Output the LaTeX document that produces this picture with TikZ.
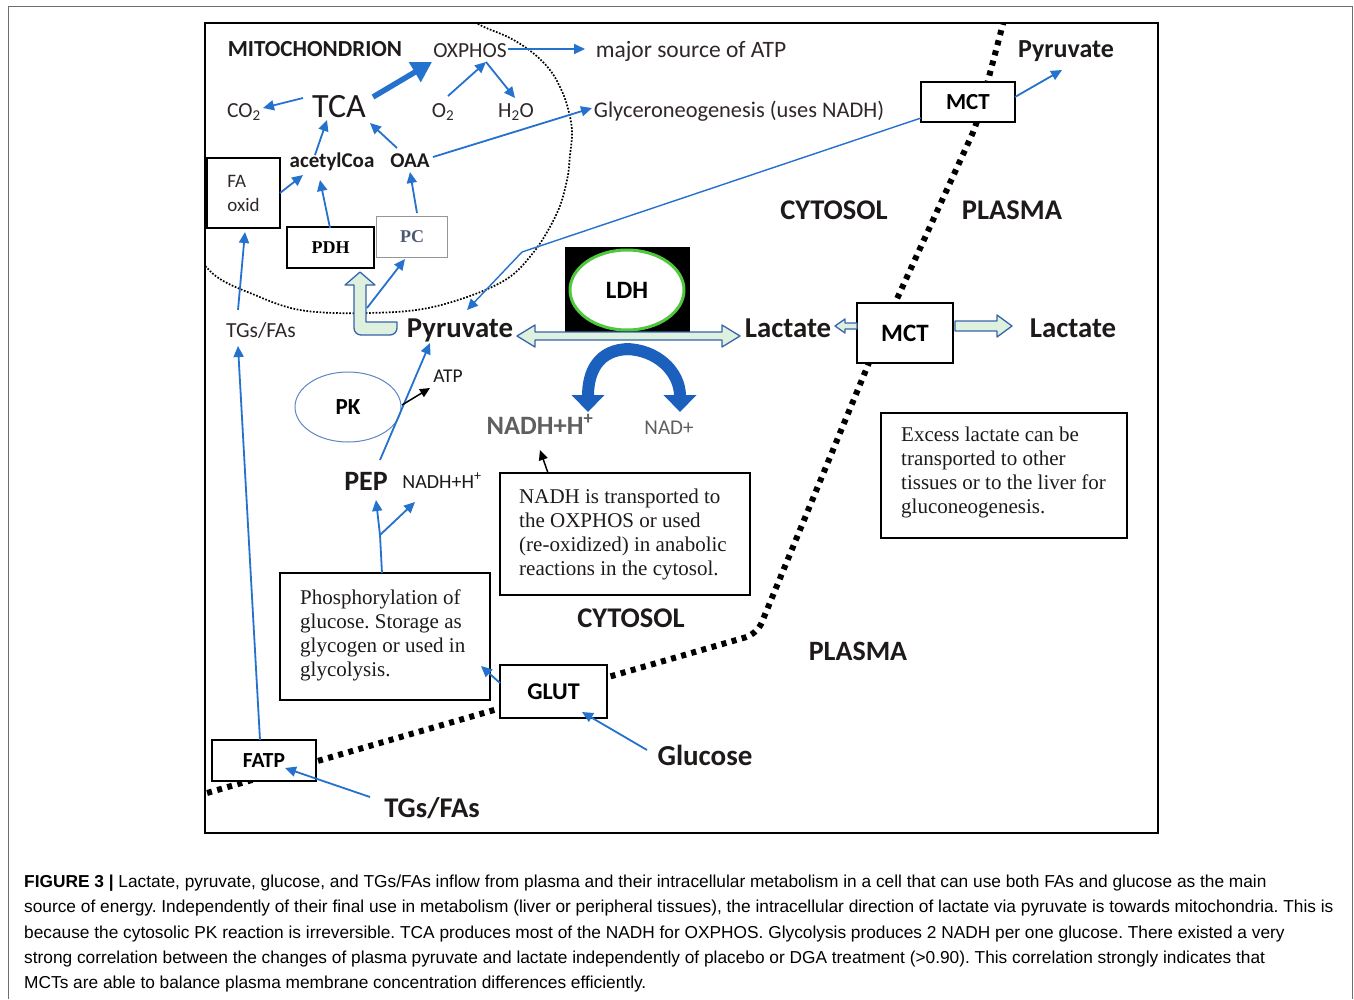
\documentclass[tikz,border=0pt]{standalone}
\usepackage{fontspec}
\setmainfont{Carlito}
\newfontfamily\serifnote{Liberation Serif}
\newfontfamily\capsans{Liberation Sans}
\usetikzlibrary{arrows.meta,calc,shapes.geometric}
\definecolor{flowblue}{RGB}{36,113,206}
\definecolor{bandblue}{RGB}{28,96,190}
\definecolor{palegreen}{RGB}{222,240,222}
\definecolor{hollowline}{RGB}{55,100,170}
\definecolor{ldhgreen}{RGB}{80,200,60}
\definecolor{txt}{RGB}{30,26,26}
\definecolor{softtxt}{RGB}{48,40,40}
\definecolor{graytxt}{RGB}{95,95,95}
\definecolor{pcgray}{RGB}{150,150,150}
\definecolor{pctext}{RGB}{75,90,115}
\definecolor{pkblue}{RGB}{95,135,195}
\definecolor{framegray}{RGB}{110,110,110}
\newcommand\fsz[1]{\fontsize{#1}{#1}\selectfont}
\frenchspacing
\begin{document}
\begin{tikzpicture}[x=1pt,y=-1pt,
  lab/.style={inner sep=0pt,anchor=base,text=txt},
  flow/.style={draw=flowblue,line width=1.8pt,-{Triangle[length=11pt,width=10pt]}},
  blk/.style={draw=black,line width=1.5pt,-{Triangle[length=10pt,width=9pt]}},
  box/.style={draw=black,line width=1.6pt,fill=white,inner sep=0pt},
  note/.style={inner sep=0pt,anchor=north west,align=left,font=\serifnote\fontsize{21}{24}\selectfont,text=txt},
  membrane/.style={draw=black,line width=6pt,dash pattern=on 5pt off 5.5pt},
  hollow/.style={draw=hollowline,line width=1.3pt,fill=palegreen,line join=round},
  band/.style={draw=bandblue,line width=12pt,-{Triangle[length=17pt,width=32pt]}},
  captxt/.style={inner sep=0pt,anchor=base west,font=\capsans\fsz{17.3},text=black},
]
\useasboundingbox (0,0) rectangle (1354,999);
\fill[white] (0,0) rectangle (1354,999);
\draw[framegray,line width=0.9pt] (8,999) -- (8,6) -- (1352,6) -- (1352,999);

% mitochondrion outline and plasma membrane
\begin{scope}
  \clip (205,23) rectangle (1158,833);
  \draw[line width=1.7pt,dash pattern=on 1.7pt off 1.6pt] plot[smooth,tension=0.6] coordinates {(462,12) (480,25) (510,38) (533,53) (550,70) (560,87) (567,105) (572,130) (570,155) (567,180) (557,213) (533,253) (500,283) (433,307) (367,313) (300,310) (250,293) (217,277) (196,255)};
  \draw[membrane,rounded corners=12pt] (1004,20) -- (976,126) -- (880,336) -- (757,634) -- (200,795);
\end{scope}
\draw[line width=1.8pt] (205,23) rectangle (1158,833);

% labels and boxes
\node[lab,font=\bfseries\fsz{23}] (mito) at (315,56) {MITOCHONDRION};
\node[lab,font=\fsz{21.5},text=softtxt] (oxphos) at (470,57) {OXPHOS};
\node[lab,font=\fsz{23.5},text=softtxt] (atp) at (691,57) {major source of ATP};
\node[lab,font=\fsz{34}] (tca) at (339,117) {TCA};
\node[lab,font=\fsz{21.5},text=softtxt] (co2) at (244,117) {CO\textsubscript{2}};
\node[lab,font=\fsz{21.5},text=softtxt] (o2) at (443,117) {O\textsubscript{2}};
\node[lab,font=\fsz{21.5},text=softtxt] (h2o) at (516,117) {H\textsubscript{2}O};
\node[lab,font=\fsz{22.4},text=softtxt] (glyc) at (739,117) {Glyceroneogenesis (uses NADH)};
\node[lab,font=\bfseries\fsz{21}] (acoa) at (332,167) {acetylCoa};
\node[lab,font=\bfseries\fsz{21}] (oaa) at (410,167) {OAA};
\node[box,minimum width=73pt,minimum height=70pt,align=left,font=\fontsize{19}{24}\selectfont,text=softtxt] (faox) at (243.5,193) {FA\\oxid};
\node[box,line width=2.6pt,minimum width=87pt,minimum height=41pt,font=\serifnote\bfseries\fsz{18}] (pdh) at (330.5,247.5) {PDH};
\node[box,draw=pcgray,line width=1pt,minimum width=71pt,minimum height=41pt,font=\serifnote\bfseries\fsz{18},text=pctext] (pc) at (412,236.5) {PC};

\node[lab,font=\bfseries\fsz{28.5}] (cyto1) at (834,219) {CYTOSOL};
\node[lab,font=\bfseries\fsz{28.5}] (plas1) at (1012,219) {PLASMA};
\node[lab,font=\bfseries\fsz{26}] (pyrtop) at (1066,57) {Pyruvate};
\node[box,minimum width=94pt,minimum height=40pt,font=\bfseries\fsz{23}] (mct1) at (968,102) {MCT\hspace{4pt}};

\node[fill=black,inner sep=0pt,minimum width=125pt,minimum height=86pt] (ldhbox) at (627.5,290) {};
\node[ellipse,draw=ldhgreen,line width=3pt,fill=white,inner sep=0pt,minimum width=114pt,minimum height=80pt,font=\bfseries\fsz{25}] (ldh) at (627,290) {LDH};

\node[lab,font=\bfseries\fsz{28.8}] (pyr) at (460,337) {Pyruvate};
\node[lab,font=\bfseries\fsz{28.8}] (lac) at (788,337) {Lactate};
\node[box,minimum width=96pt,minimum height=60pt,font=\bfseries\fsz{25}] (mct2) at (905,333) {MCT};
\node[lab,font=\bfseries\fsz{28.8}] (lac2) at (1073,337) {Lactate};
\node[lab,font=\fsz{21.5},text=softtxt] (tgs) at (261,337) {TGs/FAs};
\node[ellipse,draw=pkblue,line width=1pt,inner sep=0pt,minimum width=106pt,minimum height=70pt,font=\bfseries\fsz{23}] (pk) at (348,407) {PK};
\node[lab,font=\fsz{19.5}] (atpm) at (448,382) {ATP};
\node[lab,font=\bfseries\fsz{26.5},text=graytxt] (nadhb) at (540,434) {NADH+H\textsuperscript{+}};
\node[lab,font=\fsz{21},text=graytxt] (nad) at (669,434) {NAD+};
\node[lab,font=\bfseries\fsz{28}] (pep) at (366,490) {PEP};
\node[lab,font=\fsz{20}] (nadhs) at (442,488) {NADH+H\textsuperscript{+}};

\node[box,minimum width=250pt,minimum height=122pt] (nadhbox) at (625,534) {};
\node[note] (nadhtxt) at (519,489) {NADH is transported to\\the OXPHOS or used\\(re-oxidized) in anabolic\\reactions in the cytosol.};
\node[box,minimum width=246pt,minimum height=125pt] (excess) at (1004,475.5) {};
\node[note] (excesstxt) at (901,427) {Excess lactate can be\\transported to other\\tissues or to the liver for\\gluconeogenesis.};
\node[box,minimum width=210pt,minimum height=127pt] (phos) at (385,636.5) {};
\node[note] (phostxt) at (300,590) {Phosphorylation of\\glucose. Storage as\\glycogen or used in\\glycolysis.};

\node[lab,font=\bfseries\fsz{28.5}] (cyto2) at (631,627) {CYTOSOL};
\node[lab,font=\bfseries\fsz{28}] (plas2) at (858,660) {PLASMA};
\node[box,minimum width=107pt,minimum height=53pt,font=\bfseries\fsz{24}] (glut) at (553.5,691.5) {GLUT\hspace{9pt}};
\node[lab,font=\bfseries\fsz{29}] (glucose) at (705,765) {Glucose};
\node[box,minimum width=104pt,minimum height=41pt,font=\bfseries\fsz{21.5}] (fatp) at (264,760.5) {FATP\hspace{22pt}};
\node[lab,font=\bfseries\fsz{28.5}] (tgsb) at (432,817) {TGs/FAs};

% mitochondrial arrows
\draw[flow] ([shift={(-36,-19)}]tca.base) -- ([shift={(19,-9)}]co2.base);
\draw[draw=flowblue,line width=5.5pt,-{Triangle[length=20pt,width=22pt]}] ([shift={(34,-20)}]tca.base) -- ([shift={(-38,5)}]oxphos.base);
\coordinate (oxv) at ([shift={(16,5)}]oxphos.base);
\draw[flow] ([shift={(5,-21)}]o2.base) -- (oxv);
\draw[flow] (oxv) -- ([shift={(-1,-19)}]h2o.base);
\draw[flow] ([shift={(38,-8)}]oxphos.base) -- ([shift={(-106,-8)}]atp.base);
\draw[flow] ([shift={(23,-10)}]oaa.base) -- ([shift={(-147,-9)}]glyc.base);
\draw[flow] ([shift={(-17,-12)}]acoa.base) -- ([shift={(-12,3)}]tca.base);
\draw[flow] ([shift={(-13,-19)}]oaa.base) -- ([shift={(31,6)}]tca.base);
\draw[flow] ([shift={(36.5,0)}]faox.center) -- ([shift={(-29,8)}]acoa.base);
\draw[flow] ([shift={(-0.5,-19.5)}]pdh.center) -- ([shift={(-12,13)}]acoa.base);
\draw[flow] ([shift={(5,-23.5)}]pc.center) -- ([shift={(0,5)}]oaa.base);

% hollow L arrow pyruvate -> PDH
\begin{scope}[shift={(pyr.base)}]
  \draw[hollow] (-63,-15) -- (-94,-15) -- (-94,-52) -- (-85,-52) -- (-100,-65) -- (-115,-52) -- (-106,-52) [rounded corners=7pt] -- (-106,-2) -- (-63,-2) [sharp corners] -- cycle;
\end{scope}
\draw[flow] ([shift={(-93,-29)}]pyr.base) -- ([shift={(-7,22.5)}]pc.center);

% LDH double arrow
\coordinate (dl) at ([shift={(57,-1)}]pyr.base);
\coordinate (dr) at ([shift={(-48,-1)}]lac.base);
\draw[hollow] (dl) -- ++(18,-11) -- ++(0,7) -- ($(dr)+(-18,-4)$) -- ++(0,-7) -- (dr) -- ++(-18,11) -- ++(0,-7) -- ($(dl)+(18,4)$) -- ++(0,7) -- cycle;

% MCT hollow arrows
\begin{scope}[shift={(mct2.center)}]
  \draw[hollow] (-70,-7) -- (-60,-14) -- (-60,-10) -- (-48,-10) -- (-48,-4) -- (-60,-4) -- (-60,0) -- cycle;
  \draw[hollow] (50,-12) -- (92,-12) -- (92,-18) -- (107,-7) -- (92,4) -- (92,-2) -- (50,-2) -- cycle;
\end{scope}

% NADH / NAD+ bands
\draw[band] ([shift={(3,59)}]ldh.center) .. controls +(-32,0) and +(0,-40) .. ([shift={(-39,122)}]ldh.center);
\draw[band] ([shift={(-2,59)}]ldh.center) .. controls +(32,0) and +(0,-40) .. ([shift={(53,122)}]ldh.center);

% cytosol arrows
\coordinate (kink) at ([shift={(-446,150)}]mct1.center);
\draw[flow,line width=1.4pt] ([shift={(-47,16)}]mct1.center) -- (kink) -- ([shift={(7,-27)}]pyr.base);
\draw[flow] ([shift={(47,-5)}]mct1.center) -- ([shift={(-4,13)}]pyrtop.base);
\draw[flow] ([shift={(14,-30)}]pep.base) -- ([shift={(-30,6)}]pyr.base);
\coordinate (br) at ([shift={(-5,-101.5)}]phos.center);
\draw[draw=flowblue,line width=1.8pt] ([shift={(-3,-63.5)}]phos.center) -- (br);
\draw[flow] (br) -- ([shift={(10,10)}]pep.base);
\draw[flow] (br) -- ([shift={(-27,14)}]nadhs.base);
\draw[flow] ([shift={(-23,-27)}]tgs.base) -- ([shift={(1.5,39)}]faox.center);
\draw[flow] ([shift={(-4,-20.5)}]fatp.center) -- ([shift={(-23,9)}]tgs.base);
\draw[flow] ([shift={(-62,-20)}]tgsb.base) -- ([shift={(21,7.5)}]fatp.center);
\draw[flow] ([shift={(-58,-15)}]glucose.base) -- ([shift={(28.5,20.5)}]glut.center);
\draw[flow] ([shift={(-53.5,-8.5)}]glut.center) -- ([shift={(96,29.5)}]phos.center);
\draw[blk] ([shift={(54,-2)}]pk.center) -- ([shift={(-18,6)}]atpm.base);
\draw[blk] ([shift={(-77,-61)}]nadhbox.center) -- ([shift={(0,16)}]nadhb.base);

% caption
\node[captxt] (cap1) at (24,887) {\textbf{FIGURE 3 |} Lactate, pyruvate, glucose, and TGs/FAs inflow from plasma and their intracellular metabolism in a cell that can use both FAs and glucose as the main};
\node[captxt] (cap2) at (24,912) {source of energy. Independently of their final use in metabolism (liver or peripheral tissues), the intracellular direction of lactate via pyruvate is towards mitochondria. This is};
\node[captxt] (cap3) at (24,938) {because the cytosolic PK reaction is irreversible. TCA produces most of the NADH for OXPHOS. Glycolysis produces 2 NADH per one glucose. There existed a very};
\node[captxt] (cap4) at (24,963) {strong correlation between the changes of plasma pyruvate and lactate independently of placebo or DGA treatment (>0.90). This correlation strongly indicates that};
\node[captxt] (cap5) at (24,988) {MCTs are able to balance plasma membrane concentration differences efficiently.};
\end{tikzpicture}
\end{document}
